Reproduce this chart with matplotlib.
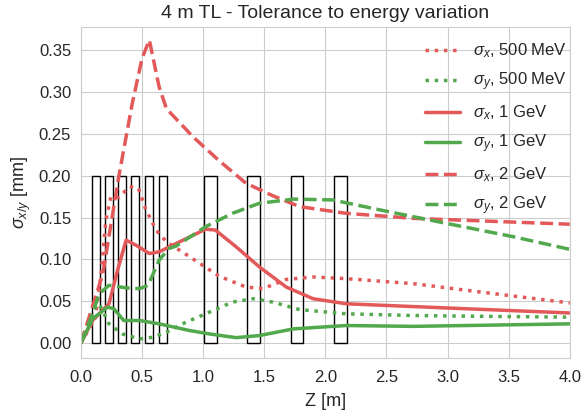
import numpy as np
import matplotlib
matplotlib.use('Agg')
import matplotlib.pyplot as plt
import seaborn as sns
from matplotlib.patches import Rectangle

sns.set_style('whitegrid')
plt.rcParams['font.family'] = ['Liberation Sans', 'DejaVu Sans']
plt.rcParams['mathtext.fontset'] = 'custom'
plt.rcParams['mathtext.rm'] = 'Liberation Sans'
plt.rcParams['mathtext.it'] = 'Liberation Sans:italic'

red = '#e35959'
green = '#52a84c'

# beam size along the line, 500 MeV
z_x500 = [0.0, 0.12, 0.165, 0.205, 0.246, 0.31, 0.40, 0.47, 0.53, 0.615, 0.70, 0.86, 1.13, 1.35, 1.49, 1.68, 1.9, 2.17, 2.72, 3.27, 4.0]
sx_500 = [0.0, 0.031, 0.083, 0.147, 0.175, 0.174, 0.187, 0.185, 0.160, 0.135, 0.121, 0.106, 0.080, 0.067, 0.065, 0.076, 0.079, 0.077, 0.071, 0.061, 0.048]
z_y500 = [0.0, 0.095, 0.15, 0.23, 0.34, 0.48, 0.59, 0.70, 0.83, 1.02, 1.24, 1.41, 1.57, 1.79, 2.17, 2.7, 3.27, 4.0]
sy_500 = [0.0, 0.039, 0.047, 0.023, 0.011, 0.005, 0.007, 0.013, 0.023, 0.035, 0.049, 0.053, 0.049, 0.040, 0.035, 0.033, 0.032, 0.031]

# 1 GeV
z_x1 = [0.0, 0.095, 0.23, 0.30, 0.37, 0.45, 0.56, 0.64, 0.78, 1.02, 1.10, 1.27, 1.46, 1.68, 1.9, 2.17, 2.99, 4.0]
sx_1 = [0.0, 0.027, 0.047, 0.087, 0.123, 0.117, 0.107, 0.109, 0.119, 0.136, 0.135, 0.115, 0.091, 0.067, 0.053, 0.047, 0.042, 0.036]
z_y1 = [0.0, 0.095, 0.22, 0.27, 0.35, 0.48, 0.64, 0.89, 1.05, 1.27, 1.46, 1.74, 2.17, 2.72, 4.0]
sy_1 = [0.0, 0.029, 0.043, 0.041, 0.027, 0.027, 0.023, 0.015, 0.011, 0.0065, 0.009, 0.017, 0.021, 0.020, 0.023]

# 2 GeV
z_x2 = [0.0, 0.18, 0.31, 0.42, 0.50, 0.56, 0.64, 0.70, 0.92, 1.13, 1.35, 1.57, 1.79, 2.17, 2.72, 3.27, 4.0]
sx_2 = [0.0, 0.083, 0.199, 0.286, 0.340, 0.362, 0.306, 0.280, 0.246, 0.218, 0.191, 0.176, 0.163, 0.155, 0.149, 0.146, 0.142]
z_y2 = [0.0, 0.095, 0.15, 0.23, 0.37, 0.48, 0.55, 0.64, 0.72, 0.78, 1.02, 1.24, 1.46, 1.74, 2.06, 2.45, 2.99, 3.54, 4.0]
sy_2 = [0.0, 0.035, 0.059, 0.069, 0.066, 0.065, 0.069, 0.099, 0.113, 0.116, 0.139, 0.155, 0.167, 0.172, 0.171, 0.159, 0.143, 0.127, 0.112]

# magnet positions (start, length)
mag_start = [0.09, 0.195, 0.303, 0.413, 0.522, 0.64, 1.01, 1.362, 1.722, 2.072]
mag_len = [0.066, 0.066, 0.063, 0.06, 0.066, 0.064, 0.104, 0.1, 0.096, 0.102]
mag_h = 0.2

fig = plt.figure(figsize=(5.82, 4.16), dpi=100)
ax = fig.add_subplot(111)
fig.subplots_adjust(left=0.139, right=0.979, top=0.936, bottom=0.139)

lw = 2.5
ax.plot(z_x500, sx_500, ':', color=red, lw=lw, label=r'$\sigma_x$, 500 MeV')
ax.plot(z_y500, sy_500, ':', color=green, lw=lw, label=r'$\sigma_y$, 500 MeV')
ax.plot(z_x1, sx_1, '-', color=red, lw=lw, label=r'$\sigma_x$, 1 GeV')
ax.plot(z_y1, sy_1, '-', color=green, lw=lw, label=r'$\sigma_y$, 1 GeV')
ax.plot(z_x2, sx_2, '--', color=red, lw=lw, label=r'$\sigma_x$, 2 GeV')
ax.plot(z_y2, sy_2, '--', color=green, lw=lw, label=r'$\sigma_y$, 2 GeV')

for s, l in zip(mag_start, mag_len):
    ax.add_patch(Rectangle((s, 0), l, mag_h, fill=False, edgecolor='k', lw=1))

ax.set_xlim(0, 4.0)
ax.set_ylim(-0.018, 0.378)
ax.set_xticks(np.arange(0, 4.01, 0.5))
ax.set_yticks(np.arange(0, 0.351, 0.05))
ax.tick_params(labelsize=12)
ax.tick_params(axis='x', pad=5)
ax.set_xlabel('Z [m]', fontsize=13, labelpad=6)
ax.set_ylabel(r'$\sigma_{x/y}$ [mm]', fontsize=13)
ax.set_title('4 m TL - Tolerance to energy variation', fontsize=14)
ax.legend(loc='upper right', bbox_to_anchor=(1.025, 1.0), frameon=False, fontsize=12,
          handlelength=2.1, handletextpad=0.8, labelspacing=0.62)

fig.savefig('out.png', dpi=100)
